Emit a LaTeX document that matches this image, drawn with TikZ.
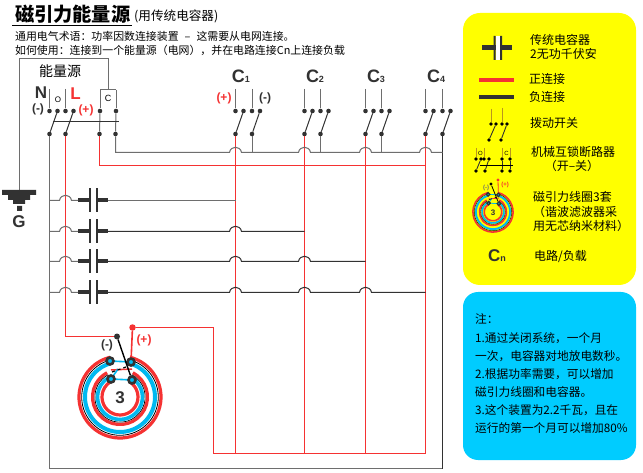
\documentclass[tikz,border=0pt]{standalone}
\usepackage{fontspec}
\setmainfont{Liberation Sans}
\newfontfamily\cjk{Noto Sans CJK SC}
\usetikzlibrary{positioning}
\definecolor{wirered}{RGB}{245,50,50}
\definecolor{wiregrey}{RGB}{110,110,110}
\definecolor{wireblack}{RGB}{50,50,50}
\definecolor{legyellow}{RGB}{255,255,0}
\definecolor{legblue}{RGB}{0,204,255}
\definecolor{leggold}{RGB}{185,150,30}
\definecolor{coilblue}{RGB}{0,185,240}
\newcommand{\fs}[1]{\fontsize{#1}{#1}\selectfont}
\tikzset{
	wire/.style={color=wiregrey,line width=1pt},
	blackwire/.style={color=wireblack,line width=1pt},
	redwire/.style={color=wirered,line width=1.6pt},
	termdot/.style={circle,fill=wireblack,inner sep=0,minimum size=4.6pt},
	smalldot/.style={circle,fill=black,inner sep=0,minimum size=3.6pt},
	txt/.style={anchor=west,inner sep=0,font=\cjk\fs{12}},
	note/.style={anchor=west,inner sep=0,font=\cjk\fs{11.7}},
	tag/.style={inner sep=0,font=\bfseries\fs{12},color=wireblack},
	redtag/.style={inner sep=0,font=\bfseries\fs{12},color=wirered},
	clab/.style={inner sep=0,font=\bfseries\fs{18},color=wireblack},
}
% one switch: lead on top, two upper dots, one lower dot
\newcommand{\swunit}[2]{
	\coordinate (#1t) at (#2,89);
	\node[termdot] (#1a) at (#2,111) {};
	\node[termdot] (#1b) at (#2+8,111) {};
	\node[termdot] (#1c) at (#2,134) {};
	\draw[wire] (#1t) -- (#1a);
	\draw[blackwire] (#1b) -- (#1c);
}
% hop of a wire over a red line
\newcommand{\hop}[2]{-- (#1-6,#2) .. controls (#1-5,#2-7) and (#1+5,#2-7) .. (#1+6,#2)}
% capacitor on a row
\newcommand{\capunit}[2]{
	\coordinate (#1l) at (78,#2);
	\coordinate (#1r) at (108,#2);
	\draw[color=wireblack,line width=4pt] (#1l) -- (90,#2);
	\draw[color=wireblack,line width=4pt] (97,#2) -- (#1r);
	\draw[color=wireblack,line width=1.7pt] (90,#2-12) -- (90,#2+12);
	\draw[color=wireblack,line width=1.7pt] (97,#2-12) -- (97,#2+12);
}
% coil: name, centre x, centre y, scale, size of the number
\newcommand{\coilunit}[5]{
	\begin{scope}[shift={(#2,#3)},scale=#4]
		\draw[color=wirered,line width=#4*3.2pt] (-76:41) arc[start angle=-76,delta angle=332,radius=41];
		\draw[color=black,line width=#4*.8pt] (-74:38.3) arc[start angle=-74,delta angle=328,radius=38.3];
		\draw[color=coilblue,line width=#4*4pt] (-72:35) arc[start angle=-72,delta angle=324,radius=35];
		\draw[color=wirered,line width=#4*3.2pt] (-62:27.5) arc[start angle=-62,delta angle=304,radius=27.5];
		\draw[color=black,line width=#4*.7pt] (-62:25.2) arc[start angle=-62,delta angle=304,radius=25.2];
		\draw[color=coilblue,line width=#4*3.6pt] (-58:22.5) arc[start angle=-58,delta angle=296,radius=22.5];
		\draw[color=wirered,line width=#4*3.2pt] (-58:18) arc[start angle=-58,delta angle=296,radius=18];
		\draw[color=wirered,line width=#4*1.5pt] (-9,-27) -- (12,-28);
		\draw[color=coilblue,line width=#4*1.6pt] (-10,-36) -- (11,-35);
		\draw[color=coilblue,line width=#4*1.6pt] (-9,-18) -- (12,-17);
		\draw[color=coilblue,line width=#4*1.6pt] (-9,-18) -- (-2,-28);
		\draw[color=black,line width=#4*1.2pt,dashed] (-8,-25) -- (6,-30);
		\node[circle,draw=wireblack,fill=coilblue,line width=#4*2.6pt,inner sep=0,minimum size=#4*7pt] (#1a) at (-10,-36) {};
		\node[circle,draw=wireblack,fill=coilblue,line width=#4*2.6pt,inner sep=0,minimum size=#4*7pt] (#1b) at (11,-35) {};
		\node[circle,draw=wireblack,fill=coilblue,line width=#4*2.6pt,inner sep=0,minimum size=#4*7pt] (#1c) at (-9,-18) {};
		\node[circle,draw=wireblack,fill=coilblue,line width=#4*2.6pt,inner sep=0,minimum size=#4*7pt] (#1d) at (12,-17) {};
		\node[inner sep=0,font=\bfseries\fs{#5},color=wireblack] (#1n) at (0,1) {3};
	\end{scope}
}
\begin{document}
\begin{tikzpicture}[x=1pt,y=-1pt]
	\useasboundingbox (0,0) rectangle (643,473);
	\fill[white] (0,0) rectangle (643,473);
	% heading
	\node[anchor=west,inner sep=0,font=\cjk\bfseries\fs{19.2}] (title) at (15,14) {磁引力能量源};
	\draw[color=black,line width=1.3pt] (12,25.5) -- (132,25.5);
	\node[anchor=west,inner sep=0,font=\cjk\fs{12.6}] (subtitle) at (134,16) {(用传统电容器)};
	\node[anchor=west,inner sep=0,font=\cjk\fs{10.9}] (linea) at (15,36) {通用电气术语：功率因数连接装置\hspace{6pt}–\hspace{6pt}这需要从电网连接。};
	\node[anchor=west,inner sep=0,font=\cjk\fs{10.9}] (lineb) at (15,50) {如何使用：连接到一个能量源（电网），并在电路连接Cn上连接负载};
	% source
	\coordinate (gndtop) at (19,190);
	\coordinate (boxc) at (108,90);
	\draw[wire] (gndtop) |- (boxc |- 0,59) -- (boxc);
	\node[inner sep=0,font=\cjk\fs{14}] (srclab) at (60,71) {能量源};
	\fill[wireblack] (2,190) rectangle (36,195) (8,195) rectangle (30,200) (13,200) rectangle (25,204) (17,206) rectangle (22,211);
	\node[inner sep=0,font=\bfseries\fs{17},color=wireblack] (gndlab) at (19,222) {G};
	\swunit{mn}{49.5}
	\swunit{ml}{65.5}
	\node[termdot] (mpa) at (100,111) {};
	\node[termdot] (mpb) at (116,111) {};
	\node[termdot] (mpc) at (99.5,134) {};
	\node[termdot] (mpd) at (115.5,134) {};
	\draw[wire] (mpa |- boxc) -- (mpb |- boxc);
	\draw[wire] (mpa |- boxc) -- (mpa);
	\draw[wire] (mpb |- boxc) -- (mpb);
	\draw[wire] (mpa) -- (mpc);
	\draw[wire] (mpb) -- (mpd);
	\coordinate (bara) at (53,122);
	\coordinate (barb) at (119,122);
	\draw[blackwire] (bara) -- (barb);
	\node[inner sep=0,font=\fs{8}] (olab) at (58,100) {O};
	\node[inner sep=0,font=\fs{9}] (clab) at (108,98) {C};
	\node[inner sep=0,font=\bfseries\fs{17},color=wireblack] (nlab) at (41,93) {N};
	\node[inner sep=0,font=\bfseries\fs{17},color=wirered] (llab) at (75.5,94) {L};
	\node[tag] (mneg) at (38,109) {(-)};
	\node[redtag] (mpos) at (86,110) {(+)};
	% four circuits
	\swunit{ap}{235.5} \swunit{an}{252}
	\swunit{bp}{304.5} \swunit{bn}{320.5}
	\swunit{cp}{365.5} \swunit{cn}{381.5}
	\swunit{dp}{425.5} \swunit{dn}{442.5}
	\node[clab] (lca) at (241,76) {C\fs{9}1};
	\node[clab] (lcb) at (315,76) {C\fs{9}2};
	\node[clab] (lcc) at (376,76) {C\fs{9}3};
	\node[clab] (lcd) at (436,76) {C\fs{9}4};
	\node[redtag] (apos) at (224,98) {(+)};
	\node[tag] (aneg) at (265,98) {(-)};
	% red wires
	\coordinate (coilin) at (65.5,336.5);
	\coordinate (railr) at (425.5,453.5);
	\coordinate (raill) at (213.5,453.5);
	\draw[redwire] (mlc) -- (coilin);
	\draw[redwire] (mpc) |- (railr |- 0,165.5) -- (dpc);
	\draw[redwire] (apc) -- (235.5,453.5);
	\draw[redwire] (bpc) -- (304.5,453.5);
	\draw[redwire] (cpc) -- (365.5,453.5);
	\draw[redwire] (dpc) -- (railr) -- (raill);
	% grey wires
	\coordinate (botl) at (49.5,468.5);
	\coordinate (botr) at (442.5,468.5);
	\draw[color=wiregrey,line width=1.2pt] (mnc) -- (botl) -- (botr);
	\draw[blackwire] (dnc) -- (botr);
	\draw[wire] (mpd) |- (220,152.5) \hop{235.5}{152.5} \hop{304.5}{152.5} \hop{365.5}{152.5} \hop{425.5}{152.5} -- (442.5,152.5);
	\draw[wire] (anc) -- (252,152.5);
	\draw[wire] (bnc) -- (320.5,152.5);
	\draw[wire] (cnc) -- (381.5,152.5);
	% capacitor rows
	\capunit{ra}{200.5}
	\capunit{rb}{231.5}
	\capunit{rc}{261.5}
	\capunit{rd}{292.5}
	\draw[wire] (49.5,200.5) \hop{65.5}{200.5} -- (ral);
	\draw[wire] (49.5,231.5) \hop{65.5}{231.5} -- (rbl);
	\draw[wire] (49.5,261.5) \hop{65.5}{261.5} -- (rcl);
	\draw[wire] (49.5,292.5) \hop{65.5}{292.5} -- (rdl);
	\draw[wire] (rar) -- (235.5,200.5);
	\draw[blackwire] (rbr) \hop{235.5}{231.5} -- (304.5,231.5);
	\draw[blackwire] (rcr) \hop{235.5}{261.5} \hop{304.5}{261.5} -- (365.5,261.5);
	\draw[blackwire] (rdr) \hop{235.5}{292.5} \hop{304.5}{292.5} \hop{365.5}{292.5} -- (425.5,292.5);
	% main coil
	\coilunit{mc}{120}{397}{1}{17}
	\node[circle,fill=wireblack,inner sep=0,minimum size=6pt] (coilneg) at (117,336.5) {};
	\node[circle,fill=wirered,inner sep=0,minimum size=6.5pt] (coilpos) at (132.5,327.5) {};
	\draw[redwire] (coilin) -- (coilneg);
	\draw[redwire] (coilpos) -| (raill);
	\draw[color=wirered,line width=1.6pt] (coilpos) -- (mcb);
	\draw[color=black,line width=1.4pt] (coilneg) -- (mcd);
	\node[tag] (cneg) at (107,345) {(-)};
	\node[redtag] (cpos) at (144,340) {(+)};
	% yellow legend
	\fill[legyellow,rounded corners=17pt] (463,13) rectangle (636,285);
	\fill[wireblack] (482,45.5) rectangle (512,50.5);
	\fill[white] (495.5,36) rectangle (500,60);
	\fill[wireblack] (493.5,36) rectangle (495.5,60) (500,36) rectangle (502,60);
	\node[txt] (lega) at (530,40) {传统电容器};
	\node[txt] (legb) at (530,54) {2无功千伏安};
	\draw[color=wirered,line width=4pt] (479,80) -- (514,80);
	\draw[color=wireblack,line width=4pt] (479,97) -- (514,97);
	\node[txt] (legc) at (529,79) {正连接};
	\node[txt] (legd) at (529,97) {负连接};
	\node[smalldot] (swa) at (491,124) {};
	\node[smalldot] (swb) at (496,124) {};
	\node[smalldot] (swc) at (502,124) {};
	\node[smalldot] (swd) at (507,124) {};
	\node[smalldot] (swe) at (489,140) {};
	\node[smalldot] (swf) at (501,140) {};
	\draw[color=leggold,line width=1pt] (491,109) -- (swa);
	\draw[color=leggold,line width=1pt] (502,108) -- (swc);
	\draw[color=wireblack,line width=.9pt] (swb) -- (swe);
	\draw[color=wireblack,line width=.9pt] (swd) -- (swf);
	\node[txt] (lege) at (530,123) {拨动开关};
	\node[smalldot] (bka) at (476,159) {};
	\node[smalldot] (bkb) at (481,159) {};
	\node[smalldot] (bkc) at (484,159) {};
	\node[smalldot] (bkd) at (489,159) {};
	\node[smalldot] (bke) at (502,159) {};
	\node[smalldot] (bkf) at (510,159) {};
	\node[smalldot] (bkg) at (476,171) {};
	\node[smalldot] (bkh) at (485,171) {};
	\node[smalldot] (bki) at (502,171) {};
	\node[smalldot] (bkj) at (510,171) {};
	\draw[color=leggold,line width=1pt] (476,148) -- (bka);
	\draw[color=leggold,line width=1pt] (484,148) -- (bkc);
	\draw[color=leggold,line width=1pt] (502,148) -- (bke);
	\draw[color=leggold,line width=1pt] (510,148) -- (bkf);
	\draw[color=wireblack,line width=.9pt] (bkb) -- (bkg);
	\draw[color=wireblack,line width=.9pt] (bkd) -- (bkh);
	\draw[color=wireblack,line width=.9pt] (bke) -- (bki);
	\draw[color=wireblack,line width=.9pt] (bkf) -- (bkj);
	\draw[color=black,line width=.8pt] (480,165) -- (513,165);
	\node[inner sep=0,font=\fs{6}] (bkp) at (480.5,153) {O};
	\node[inner sep=0,font=\fs{6}] (bkq) at (506.5,153) {C};
	\node[txt] (legf) at (531,152) {机械互锁断路器};
	\node[txt,anchor=center] (legg) at (572,166) {（开–关）};
	\coilunit{lc}{493}{212}{.49}{8}
	\node[circle,fill=black,inner sep=0,minimum size=3.4pt] (lcneg) at (491,184) {};
	\node[circle,fill=wirered,inner sep=0,minimum size=3.4pt] (lcpos) at (498,180) {};
	\draw[color=black,line width=.8pt] (lcneg) -- (lcd);
	\draw[color=wirered,line width=.8pt] (lcpos) -- (lcb);
	\node[inner sep=0,font=\bfseries\fs{6},color=wiregrey] (lcn) at (486,188) {(-)};
	\node[inner sep=0,font=\bfseries\fs{6},color=wirered] (lcp) at (505,185) {(+)};
	\node[txt] (legh) at (533,197) {磁引力线圈3套};
	\node[txt] (legi) at (533,212) {（谐波滤波器采};
	\node[txt] (legj) at (533,226) {用无芯纳米材料）};
	\node[inner sep=0,font=\bfseries\fs{17},color=wireblack] (cnlab) at (497,256) {C\fs{9}n};
	\node[txt] (legk) at (534,257) {电路/负载};
	% blue notes
	\fill[legblue,rounded corners=15pt] (463,292) rectangle (636,460);
	\node[note] (nota) at (475,319) {注：};
	\node[note] (notb) at (475,338) {1.通过关闭系统，一个月};
	\node[note] (notc) at (475,356) {一次，电容器对地放电数秒。};
	\node[note] (notd) at (475,374) {2.根据功率需要，可以增加};
	\node[note] (note) at (475,392) {磁引力线圈和电容器。};
	\node[note] (notf) at (475,410) {3.这个装置为2.2千瓦，且在};
	\node[note] (notg) at (475,428) {运行的第一个月可以增加80\%};
\end{tikzpicture}
\end{document}
